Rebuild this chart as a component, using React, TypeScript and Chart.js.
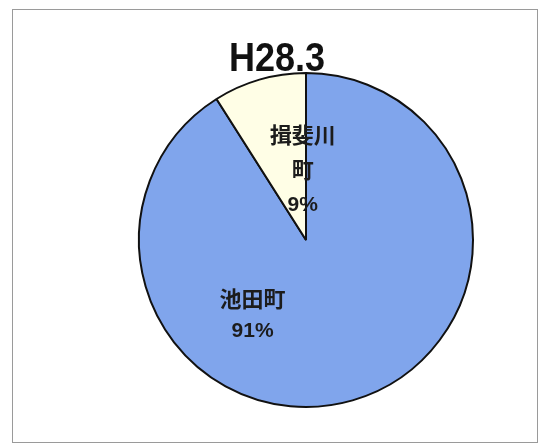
import React, { useEffect, useRef } from "react";
import { Chart, registerables } from "chart.js";

Chart.register(...registerables);

const titleText = "H28.3";
const categories = ["池田町", "揖斐川町"];
const categoryLines = [["池田町"], ["揖斐川", "町"]];
const values = [91, 9];
const colors = ["#80a5ec", "#fffee6"];
// label anchor relative to pie centre, in units of radius
const labelAnchors = [
  [-0.32, 0.45],
  [-0.02, -0.42],
];

export default function App() {
  const ref = useRef<HTMLCanvasElement | null>(null);

  useEffect(() => {
    if (!ref.current) return;
    const total = values.reduce((a, b) => a + b, 0);

    const titlePlugin = {
      id: "bigTitle",
      afterDraw(chart: any) {
        const ctx = chart.ctx;
        ctx.save();
        ctx.fillStyle = "#111";
        ctx.font = 'bold 40px "Liberation Sans", Arial, sans-serif';
        ctx.textAlign = "center";
        ctx.textBaseline = "alphabetic";
        ctx.translate(chart.width / 2 + 2, 61);
        ctx.scale(0.9, 1);
        ctx.fillText(titleText, 0, 0);
        ctx.restore();
      },
    };

    const labelPlugin = {
      id: "sliceLabels",
      afterDatasetsDraw(chart: any) {
        const ctx = chart.ctx;
        const meta = chart.getDatasetMeta(0);
        meta.data.forEach((arc: any, i: number) => {
          const { x, y, outerRadius } = arc.getProps(["x", "y", "outerRadius"], true);
          const cx = x + labelAnchors[i][0] * outerRadius;
          const cy = y + labelAnchors[i][1] * outerRadius;
          const pct = Math.round((values[i] / total) * 100) + "%";
          const lines = [...categoryLines[i], pct];
          const lh = i === 0 ? 33 : 35;
          ctx.save();
          ctx.fillStyle = "#1c1c1c";
          ctx.textAlign = "center";
          ctx.textBaseline = "middle";
          lines.forEach((ln, k) => {
            const isPct = k === lines.length - 1;
            ctx.font = isPct
              ? 'bold 21px "Liberation Sans", Arial, sans-serif'
              : 'bold 22px "Noto Sans CJK JP", sans-serif';
            ctx.fillText(ln, cx, cy + (k - (lines.length - 1) / 2) * lh);
          });
          ctx.restore();
        });
      },
    };

    const chart = new Chart(ref.current, {
      type: "pie",
      data: {
        labels: categories,
        datasets: [
          {
            data: values,
            backgroundColor: colors,
            borderColor: "#111",
            borderWidth: 2,
          },
        ],
      },
      options: {
        responsive: false,
        animation: false,
        layout: { padding: { top: 62, bottom: 34, left: 118, right: 56 } },
        plugins: {
          legend: { display: false },
          title: { display: false },
          tooltip: { enabled: false },
        },
      },
      plugins: [labelPlugin, titlePlugin],
    });
    return () => chart.destroy();
  }, []);

  return (
    <div
      style={{
        position: "fixed",
        left: 12,
        top: 9,
        width: 526,
        height: 434,
        border: "1px solid #9a9a9a",
        boxSizing: "border-box",
        background: "#fff",
        overflow: "hidden",
      }}
    >
      <canvas ref={ref} width={524} height={432} style={{ display: "block" }} />
    </div>
  );
}
